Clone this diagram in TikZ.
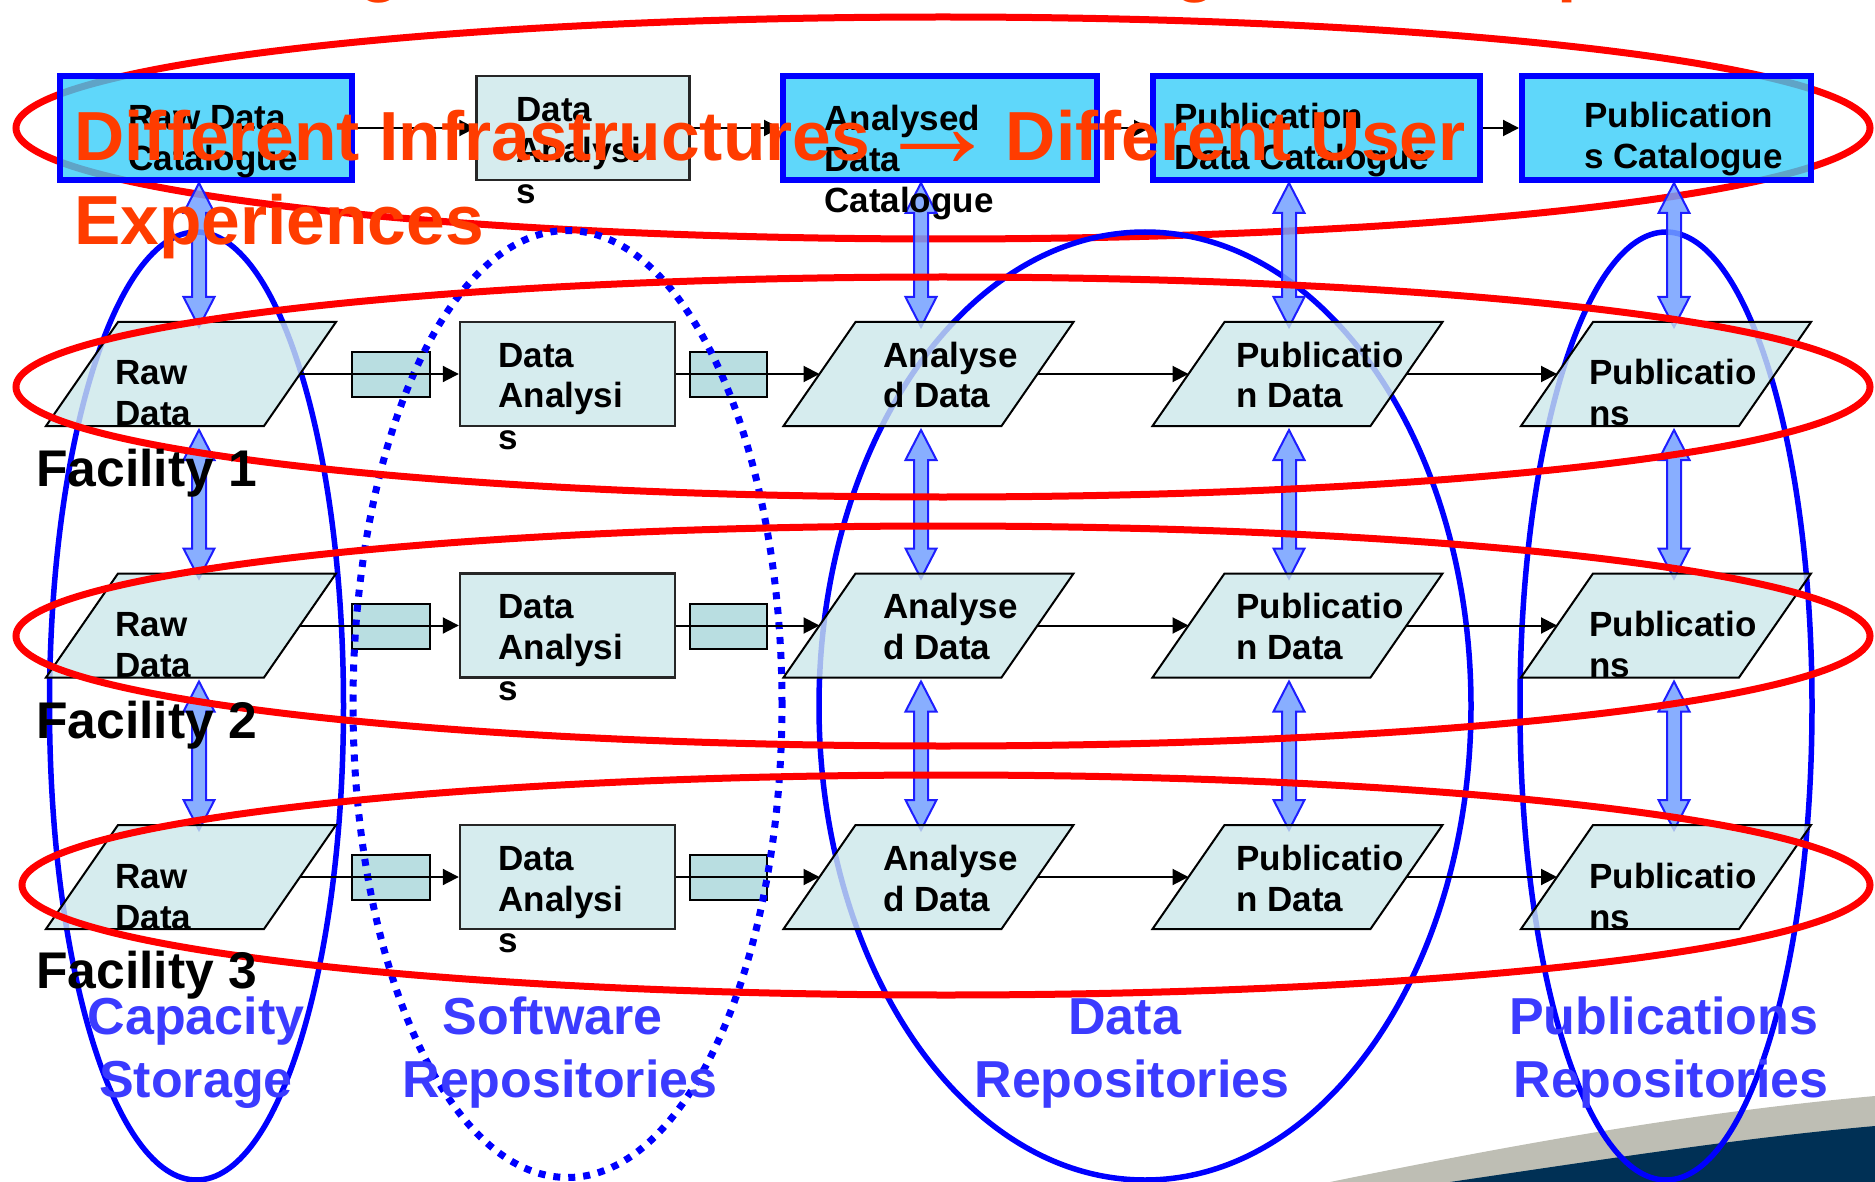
\documentclass[tikz,border=0pt]{standalone}
\usepackage{fontspec}
\setmainfont{Liberation Sans}
\usetikzlibrary{arrows.meta,calc}

\definecolor{titlered}{RGB}{255,60,0}
\definecolor{ringred}{RGB}{255,0,0}
\definecolor{ringblue}{RGB}{0,0,255}
\definecolor{labelblue}{RGB}{59,59,255}
\definecolor{catfill}{RGB}{55,205,249}
\definecolor{nodefill}{RGB}{204,231,234}
\definecolor{linkfill}{RGB}{185,222,225}
\definecolor{arrowfill}{RGB}{115,160,255}
\definecolor{arrowline}{RGB}{30,30,255}
\definecolor{swoopgray}{RGB}{190,190,180}
\definecolor{swoopnavy}{RGB}{0,48,85}

\newcommand\leftlines[1]{\begin{tabular}[t]{@{}l@{}}#1\end{tabular}}
\newcommand\centerlines[1]{\begin{tabular}[t]{@{}c@{}}#1\end{tabular}}

% block double arrow between two tip points (y grows downwards)
\newcommand\blockarrow[2]{%
  \filldraw[bigarrow] ($(#1)+(-7,30)$) -- ($(#1)+(-15.5,30)$) -- (#1) -- ($(#1)+(15.5,30)$)
    -- ($(#1)+(7,30)$) -- ($(#2)+(7,-30)$) -- ($(#2)+(15.5,-30)$) -- (#2)
    -- ($(#2)+(-15.5,-30)$) -- ($(#2)+(-7,-30)$) -- cycle;}

% slanted data shape drawn inside the frame of a slot node
\newcommand\slanted[1]{%
  \filldraw[slantface] (#1.south west) -- ++(218,0) -- (#1.north east) -- ++(-218,0) -- cycle;}

\pgfdeclarelayer{base}
\pgfdeclarelayer{rings}
\pgfdeclarelayer{shafts}
\pgfdeclarelayer{over}
\pgfdeclarelayer{labels}
\pgfsetlayers{base,rings,shafts,main,over,labels}

\tikzset{
  catbox/.style={rectangle, draw=ringblue, line width=3pt, fill=catfill, fill opacity=0.8,
    minimum height=52pt, inner sep=0pt},
  procbox/.style={rectangle, draw=black!85, line width=1.2pt, fill=nodefill, fill opacity=0.8,
    minimum height=52pt, inner sep=0pt},
  linkbox/.style={rectangle, draw=black, line width=1pt, fill=linkfill,
    minimum height=22.5pt, inner sep=0pt},
  slot/.style={rectangle, minimum width=145pt, minimum height=52pt, inner sep=0pt, outer sep=0pt},
  slantface/.style={draw=black, line width=1pt, fill=nodefill, fill opacity=0.8},
  conn/.style={draw=black, line width=1pt, -{Triangle[length=8pt,width=8pt]}},
  bigarrow/.style={draw=arrowline, line width=1pt, fill=arrowfill, fill opacity=0.85},
  redring/.style={draw=ringred, line width=3.5pt},
  bluering/.style={draw=ringblue, line width=2.75pt},
  dotring/.style={draw=ringblue, line width=3.5pt, dash pattern=on 3.5pt off 4pt},
  boxtext/.style={font=\bfseries\fontsize{17.5}{20.5}\selectfont, inner sep=0pt, anchor=base west},
  factext/.style={font=\bfseries\fontsize{25.8}{30}\selectfont, inner sep=0pt, anchor=base west},
  headtext/.style={font=\bfseries\fontsize{34.75}{42}\selectfont, text=titlered, inner sep=0pt,
    anchor=base west},
  repotext/.style={font=\bfseries\fontsize{26}{31.5}\selectfont, text=labelblue, inner sep=0pt,
    anchor=base},
}

\begin{document}
\begin{tikzpicture}[x=0.5pt,y=-0.5pt]
\useasboundingbox (0,0) rectangle (1875,1182);

% ---------- background swoosh and catalogue ring ----------
\begin{pgfonlayer}{base}
  \fill[swoopgray] (1330,1182) .. controls (1560,1135) and (1720,1110) .. (1875,1096)
    -- (1875,1182) -- cycle;
  \fill[swoopnavy] (1450,1182) .. controls (1600,1160) and (1740,1138) .. (1875,1126)
    -- (1875,1182) -- cycle;
  \draw[redring] (943,128) ellipse [x radius=463.5pt, y radius=55.5pt];
\end{pgfonlayer}

% ---------- catalogue row ----------
\node[catbox, minimum width=146pt]   (cat1) at (206,128) {};
\node[procbox, minimum width=106.5pt] (cat2) at (583,128) {};
\node[catbox, minimum width=157pt]   (cat3) at (940,128) {};
\node[catbox, minimum width=163.5pt] (cat4) at (1316.5,128) {};
\node[catbox, minimum width=144.5pt] (cat5) at (1666.5,128) {};

% ---------- facility rows ----------
\foreach \r/\dy in {1/0,2/251.5,3/503} {
  \node[slot] (raw\r) at (191,374+\dy) {};
  \node[procbox, minimum width=107.5pt] (da\r) at (567.5,374+\dy) {};
  \node[slot] (ana\r) at (928.5,374+\dy) {};
  \node[slot] (pd\r) at (1297.5,374+\dy) {};
  \node[slot] (pub\r) at (1666,374+\dy) {};
  \slanted{raw\r}
  \slanted{ana\r}
  \slanted{pd\r}
  \slanted{pub\r}
  \begin{pgfonlayer}{base}
    \node[linkbox, minimum width=39pt]   (lka\r) at (391,374.5+\dy) {};
    \node[linkbox, minimum width=38.5pt] (lkb\r) at (728.5,374.5+\dy) {};
  \end{pgfonlayer}
  \begin{pgfonlayer}{labels}
    \draw[conn] ($(raw\r.east)+(-36,0)$) -- (da\r.west);
    \draw[conn] (da\r.east) -- ($(ana\r.west)+(36,0)$);
    \draw[conn] ($(ana\r.east)+(-36,0)$) -- ($(pd\r.west)+(36,0)$);
    \draw[conn] ($(pd\r.east)+(-36,0)$) -- ($(pub\r.west)+(36,0)$);
    \node[boxtext] (rawt\r) at (115,385+\dy) {\leftlines{Raw\\Data}};
    \node[boxtext] (dat\r)  at (498,367+\dy) {\leftlines{Data\\Analysi\\s}};
    \node[boxtext] (anat\r) at (883,367+\dy) {\leftlines{Analyse\\d Data}};
    \node[boxtext] (pdt\r)  at (1236,367+\dy) {\leftlines{Publicatio\\n Data}};
    \node[boxtext] (pubt\r) at (1589,385+\dy) {\leftlines{Publicatio\\ns}};
  \end{pgfonlayer}
}

% ---------- repository rings ----------
\begin{pgfonlayer}{rings}
  \draw[bluering] (196.5,706) ellipse [x radius=73.5pt, y radius=237pt];
  \draw[dotring]  (567.5,704) ellipse [x radius=107.25pt, y radius=236.75pt];
  \draw[bluering] (1145,706) ellipse [x radius=163pt, y radius=237pt];
  \draw[bluering] (1666,706) ellipse [x radius=73pt, y radius=237pt];
\end{pgfonlayer}

% ---------- facility rings ----------
\begin{pgfonlayer}{over}
  \draw[redring] (943,387) ellipse [x radius=463.5pt, y radius=55pt];
  \draw[redring] (943,636) ellipse [x radius=463.5pt, y radius=55pt];
  \draw[redring] (946,885) ellipse [x radius=462pt, y radius=55pt];
\end{pgfonlayer}

% ---------- vertical double arrows ----------
\coordinate (colA) at (199,0);
\coordinate (colB) at (921,0);
\coordinate (colC) at (1289,0);
\coordinate (colD) at (1674,0);
\begin{pgfonlayer}{shafts}
  \foreach \cn/\tb/\nb in {A/cat1/raw, B/cat3/ana, C/cat4/pd, D/cat5/pub} {
    \coordinate (s\cn0) at (\tb.south -| col\cn);
    \path (\nb1.north -| col\cn) ++(0,5) coordinate (e\cn0);
    \path (\nb1.south -| col\cn) ++(0,4) coordinate (s\cn1);
    \path (\nb2.north -| col\cn) ++(0,5) coordinate (e\cn1);
    \path (\nb2.south -| col\cn) ++(0,4) coordinate (s\cn2);
    \path (\nb3.north -| col\cn) ++(0,5) coordinate (e\cn2);
    \blockarrow{s\cn0}{e\cn0}
    \blockarrow{s\cn1}{e\cn1}
    \blockarrow{s\cn2}{e\cn2}
  }
\end{pgfonlayer}

% ---------- labels ----------
\begin{pgfonlayer}{labels}
  \draw[conn] (cat1.east) -- (cat2.west);
  \draw[conn] (cat2.east) -- (cat3.west);
  \draw[conn] (cat3.east) -- (cat4.west);
  \draw[conn] (cat4.east) -- (cat5.west);

  \node[boxtext] (cat1t) at (128,130)  {\leftlines{Raw Data\\Catalogue}};
  \node[boxtext] (cat2t) at (516,122)  {\leftlines{Data\\Analysi\\s}};
  \node[boxtext] (cat3t) at (824,131)  {\leftlines{Analysed\\Data\\Catalogue}};
  \node[boxtext] (cat4t) at (1174,129) {\leftlines{Publication\\Data Catalogue}};
  \node[boxtext] (cat5t) at (1584,128) {\leftlines{Publication\\s Catalogue}};

  \node[factext] (fac1) at (36,486) {Facility 1};
  \node[factext] (fac2) at (36,738) {Facility 2};
  \node[factext] (fac3) at (36,988) {Facility 3};

  \node[repotext] (repo1) at (196,1034)  {\centerlines{Capacity\\Storage}};
  \node[repotext] (repo2) at (560,1034)  {\centerlines{Software\kern0.278em\\Repositories}};
  \node[repotext] (repo3) at (1132,1034) {\centerlines{Data\kern0.278em\\Repositories}};
  \node[repotext] (repo4) at (1671,1034) {\centerlines{Publications\kern0.278em\\Repositories}};

  % heading line above the frame, only its descenders reach in
  \node[headtext] (cutg1) at (358,-11)  {g};
  \node[headtext] (cutg2) at (1174,-11) {g};
  \node[headtext] (cutp)  at (1557,-11) {p};

  \node[headtext] (title) at (74,161)
    {\leftlines{Different Infrastructures\makebox[68pt]{\raisebox{-3.5pt}{\fontsize{62}{62}\selectfont →}}Different User\\Experiences}};
\end{pgfonlayer}
\end{tikzpicture}
\end{document}
